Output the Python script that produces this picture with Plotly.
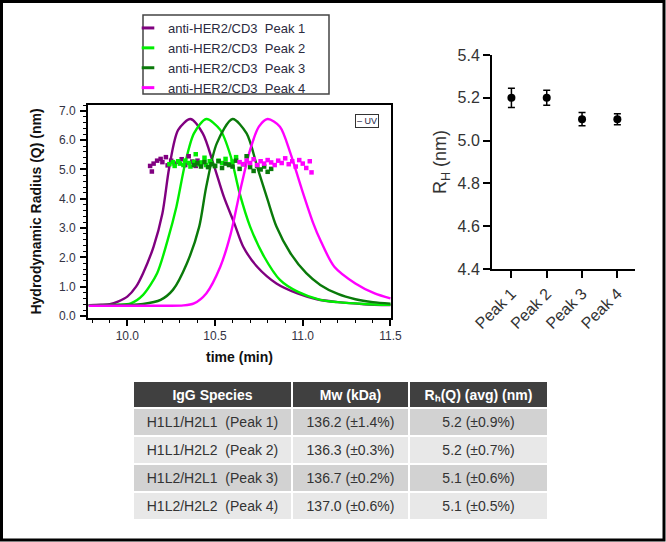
import plotly.graph_objects as go

W, H = 666, 542

# ---------------- data: UV traces (time in min, scaled signal) ----------------
p1_x = [9.78, 9.85, 9.90, 9.95, 10.00, 10.05, 10.09, 10.15, 10.20, 10.24, 10.29, 10.36,
        10.43, 10.49, 10.55, 10.61, 10.66, 10.74, 10.85, 10.97, 11.08, 11.20, 11.35, 11.50]
p1_y = [0.37, 0.38, 0.40, 0.50, 0.66, 1.00, 1.46, 2.37, 3.50, 5.10, 6.35, 6.72,
        6.23, 5.21, 4.07, 3.16, 2.37, 1.68, 1.11, 0.77, 0.57, 0.47, 0.40, 0.37]

p2_x = [9.78, 9.95, 10.02, 10.09, 10.17, 10.23, 10.28, 10.33, 10.38, 10.45,
        10.53, 10.59, 10.64, 10.70, 10.78, 10.87, 10.97, 11.10, 11.20, 11.35, 11.50]
p2_y = [0.37, 0.38, 0.43, 0.72, 1.46, 2.59, 3.73, 5.21, 6.23, 6.72,
        6.35, 5.44, 4.19, 3.05, 2.02, 1.23, 0.83, 0.55, 0.47, 0.41, 0.38]

p3_x = [9.78, 10.00, 10.09, 10.19, 10.26, 10.34, 10.41, 10.45, 10.51, 10.60,
        10.68, 10.74, 10.80, 10.85, 10.93, 11.02, 11.10, 11.20, 11.30, 11.40, 11.50]
p3_y = [0.37, 0.38, 0.41, 0.55, 0.89, 1.80, 3.05, 4.41, 5.89, 6.72,
        6.23, 5.10, 3.96, 3.05, 2.14, 1.46, 1.06, 0.75, 0.57, 0.47, 0.42]

p4_x = [9.78, 10.20, 10.32, 10.38, 10.45, 10.53, 10.59, 10.64, 10.70, 10.75, 10.80,
        10.87, 10.93, 10.99, 11.06, 11.10, 11.18, 11.30, 11.41, 11.50]
p4_y = [0.35, 0.35, 0.36, 0.43, 0.77, 1.68, 2.82, 4.19, 5.67, 6.46, 6.72,
        6.46, 5.55, 4.41, 3.16, 2.59, 1.68, 1.11, 0.77, 0.60]

# ---------------- data: hydrodynamic radius points (Q) ----------------
r1_x = [10.13, 10.14, 10.15, 10.17, 10.19, 10.20, 10.22, 10.23, 10.25, 10.27,
        10.29, 10.31, 10.33, 10.35, 10.37, 10.39, 10.40, 10.42]
r1_y = [5.12, 4.93, 5.20, 5.30, 5.36, 5.25, 5.42, 5.14, 5.30, 5.20,
        5.26, 5.35, 5.15, 5.45, 5.27, 5.12, 5.30, 5.18]

r2_x = [10.24, 10.26, 10.27, 10.29, 10.30, 10.32, 10.33, 10.35, 10.36, 10.38, 10.39, 10.41,
        10.42, 10.44, 10.45, 10.47, 10.48, 10.50, 10.52, 10.54, 10.56, 10.58, 10.60, 10.62]
r2_y = [5.18, 5.25, 5.12, 5.28, 5.20, 5.15, 5.30, 5.22, 5.10, 5.26, 5.52, 5.18,
        5.24, 5.40, 5.15, 5.28, 5.20, 5.12, 5.30, 5.22, 5.36, 5.18, 5.27, 5.42]

r3_x = [10.38, 10.40, 10.42, 10.44, 10.46, 10.48, 10.50, 10.52, 10.54, 10.56, 10.58, 10.60,
        10.62, 10.64, 10.66, 10.68, 10.70, 10.72, 10.74, 10.76, 10.78, 10.80, 10.82]
r3_y = [5.15, 5.22, 5.10, 5.25, 5.08, 5.18, 5.12, 5.28, 5.05, 5.20, 5.15, 5.10,
        5.30, 5.02, 5.18, 5.45, 5.08, 4.95, 5.12, 5.00, 5.10, 4.92, 5.02]

r4_x = [10.64, 10.66, 10.68, 10.70, 10.72, 10.74, 10.76, 10.78, 10.80, 10.82, 10.84,
        10.86, 10.88, 10.90, 10.92, 10.94, 10.96, 10.98, 11.00, 11.02, 11.04, 11.05]
r4_y = [5.25, 5.18, 5.30, 5.22, 5.35, 5.15, 5.28, 5.20, 5.32, 5.24, 5.15,
        5.30, 5.22, 5.38, 5.18, 5.28, 5.10, 5.32, 5.20, 5.05, 5.28, 4.90]

series_names = ["anti-HER2/CD3\u00a0\u00a0Peak 1", "anti-HER2/CD3\u00a0\u00a0Peak 2",
                "anti-HER2/CD3\u00a0\u00a0Peak 3", "anti-HER2/CD3\u00a0\u00a0Peak 4"]
series_colors = ["#800080", "#00ee00", "#0a7a0a", "#ff00ff"]

# ---------------- data: summary R_H ----------------
peaks = ["Peak 1", "Peak 2", "Peak 3", "Peak 4"]
rh_mean = [5.20, 5.20, 5.10, 5.10]
rh_err = [0.045, 0.035, 0.031, 0.026]

# ---------------- data: table ----------------
tbl_species = ["H1L1/H2L1\u00a0\u00a0(Peak 1)", "H1L1/H2L2\u00a0\u00a0(Peak 2)",
               "H1L2/H2L1\u00a0\u00a0(Peak 3)", "H1L2/H2L2\u00a0\u00a0(Peak 4)"]
tbl_mw = ["136.2 (±1.4%)", "136.3 (±0.3%)", "136.7 (±0.2%)", "137.0 (±0.6%)"]
tbl_rh = ["5.2 (±0.9%)", "5.2 (±0.7%)", "5.1 (±0.6%)", "5.1 (±0.5%)"]
tbl_header = ["IgG Species", "Mw (kDa)", "R\u2095(Q) (avg) (nm)"]

FONT = "Arial, Liberation Sans, sans-serif"


def fx(p):
    return p / W


def fy(p):
    return 1 - p / H


fig = go.Figure()

uv_x = [p1_x, p2_x, p3_x, p4_x]
uv_y = [p1_y, p2_y, p3_y, p4_y]
rq_x = [r1_x, r2_x, r3_x, r4_x]
rq_y = [r1_y, r2_y, r3_y, r4_y]

for i in range(4):
    fig.add_trace(go.Scatter(x=uv_x[i], y=uv_y[i], mode="lines",
                             line=dict(color=series_colors[i], width=2.4, shape="spline", smoothing=0.8),
                             showlegend=False, xaxis="x", yaxis="y"))
for i in range(4):
    fig.add_trace(go.Scatter(x=rq_x[i], y=rq_y[i], mode="markers",
                             marker=dict(symbol="square", size=4.5, color=series_colors[i]),
                             showlegend=False, xaxis="x", yaxis="y"))
# legend entries
for i in range(4):
    fig.add_trace(go.Scatter(x=[None], y=[None], mode="markers", name=series_names[i],
                             marker=dict(symbol="line-ew", size=9, color=series_colors[i],
                                         line=dict(width=3, color=series_colors[i])),
                             xaxis="x", yaxis="y"))

# right summary chart
fig.add_trace(go.Scatter(x=peaks, y=rh_mean, mode="markers",
                         marker=dict(symbol="circle", size=8, color="black"),
                         error_y=dict(type="data", array=rh_err, color="black", thickness=1.5, width=3.5),
                         showlegend=False, xaxis="x2", yaxis="y2"))

# table
fig.add_trace(go.Table(
    domain=dict(x=[fx(133), fx(548)], y=[fy(530), fy(381)]),
    columnwidth=[159, 117, 139],
    header=dict(values=tbl_header, fill_color="#404040", align="center", height=27,
                line=dict(color="white", width=2),
                font=dict(family=FONT, size=14, color="white", weight="bold")),
    cells=dict(values=[tbl_species, tbl_mw, tbl_rh], align="center", height=28,
               fill_color=[["#d2d2d2", "#e8e8e8", "#d2d2d2", "#e8e8e8"]] * 3,
               line=dict(color="white", width=2),
               font=dict(family=FONT, size=14, color="#333333")),
))

tickfont_l = dict(family=FONT, size=12, color="#333344")
fig.update_layout(
    width=W, height=H,
    margin=dict(l=0, r=0, t=0, b=0),
    paper_bgcolor="white", plot_bgcolor="white",
    font=dict(family=FONT),
    xaxis=dict(domain=[fx(88), fx(391)], range=[9.776, 11.503], showline=True, mirror=True,
               linecolor="black", linewidth=2, ticks="outside", ticklen=6, tickwidth=1.5,
               tickcolor="black", tick0=10, dtick=0.5, tickformat=".1f", tickfont=tickfont_l,
               minor=dict(dtick=0.1, ticks="outside", ticklen=3, tickcolor="black", tickwidth=1),
               showgrid=False, zeroline=False, automargin=False,
               title=dict(text="time (min)", standoff=10,
                          font=dict(family=FONT, size=14, color="#111111", weight="bold"))),
    yaxis=dict(domain=[fy(318), fy(105)], range=[-0.07, 7.2], showline=True, mirror=True,
               linecolor="black", linewidth=2, ticks="outside", ticklen=6, tickwidth=1.5,
               tickcolor="black", tick0=0, dtick=1, tickformat=".1f", tickfont=tickfont_l,
               ticklabelstandoff=2,
               minor=dict(dtick=0.2, ticks="outside", ticklen=3, tickcolor="black", tickwidth=1),
               showgrid=False, zeroline=False, automargin=False,
               title=dict(text="Hydrodynamic Radius (Q) (nm)", standoff=14,
                          font=dict(family=FONT, size=14, color="#111111", weight="bold"))),
    xaxis2=dict(domain=[fx(492), fx(635)], anchor="y2", type="category", range=[-0.55, 3.5],
                showline=True, linecolor="black", linewidth=2, ticks="outside", ticklen=7,
                tickwidth=2, tickcolor="black", tickangle=-45,
                tickfont=dict(family=FONT, size=16, color="#333333"),
                showgrid=False, zeroline=False, automargin=False),
    yaxis2=dict(domain=[fy(269), fy(55)], anchor="x2", range=[4.4, 5.4], dtick=0.2, tick0=4.4,
                tickformat=".1f", showline=True, linecolor="black", linewidth=2, ticks="outside",
                ticklen=7, tickwidth=2, tickcolor="black",
                tickfont=dict(family=FONT, size=16, color="#333333"),
                showgrid=False, zeroline=False, automargin=False,
                title=dict(text="R<sub>H</sub> (nm)", standoff=6,
                           font=dict(family=FONT, size=18, color="#333333"))),
    showlegend=True,
    legend=dict(x=fx(128), y=fy(13), xanchor="left", yanchor="top", bgcolor="rgba(0,0,0,0)",
                borderwidth=0, font=dict(family=FONT, size=13, color="#2b2b40"),
                tracegroupgap=0, itemclick=False, itemdoubleclick=False),
    shapes=[
        dict(type="rect", xref="paper", yref="paper", x0=fx(143), x1=fx(329), y0=fy(94), y1=fy(15),
             line=dict(color="#444444", width=1.5), fillcolor="rgba(0,0,0,0)"),
        dict(type="rect", xref="paper", yref="paper", x0=fx(1.5), x1=fx(664), y0=fy(540), y1=fy(1.5),
             line=dict(color="black", width=3), fillcolor="rgba(0,0,0,0)"),
    ],
    annotations=[
        dict(text="\u2013 UV", xref="paper", yref="paper", x=fx(366.5), y=fy(121), showarrow=False,
             font=dict(family=FONT, size=9, color="#222244"), bordercolor="#333333", borderwidth=1,
             borderpad=1, bgcolor="white", xanchor="center", yanchor="middle"),
    ],
)

fig.write_html("out.html", config={"displayModeBar": False},
               post_script="document.body.style.margin='0px';")
